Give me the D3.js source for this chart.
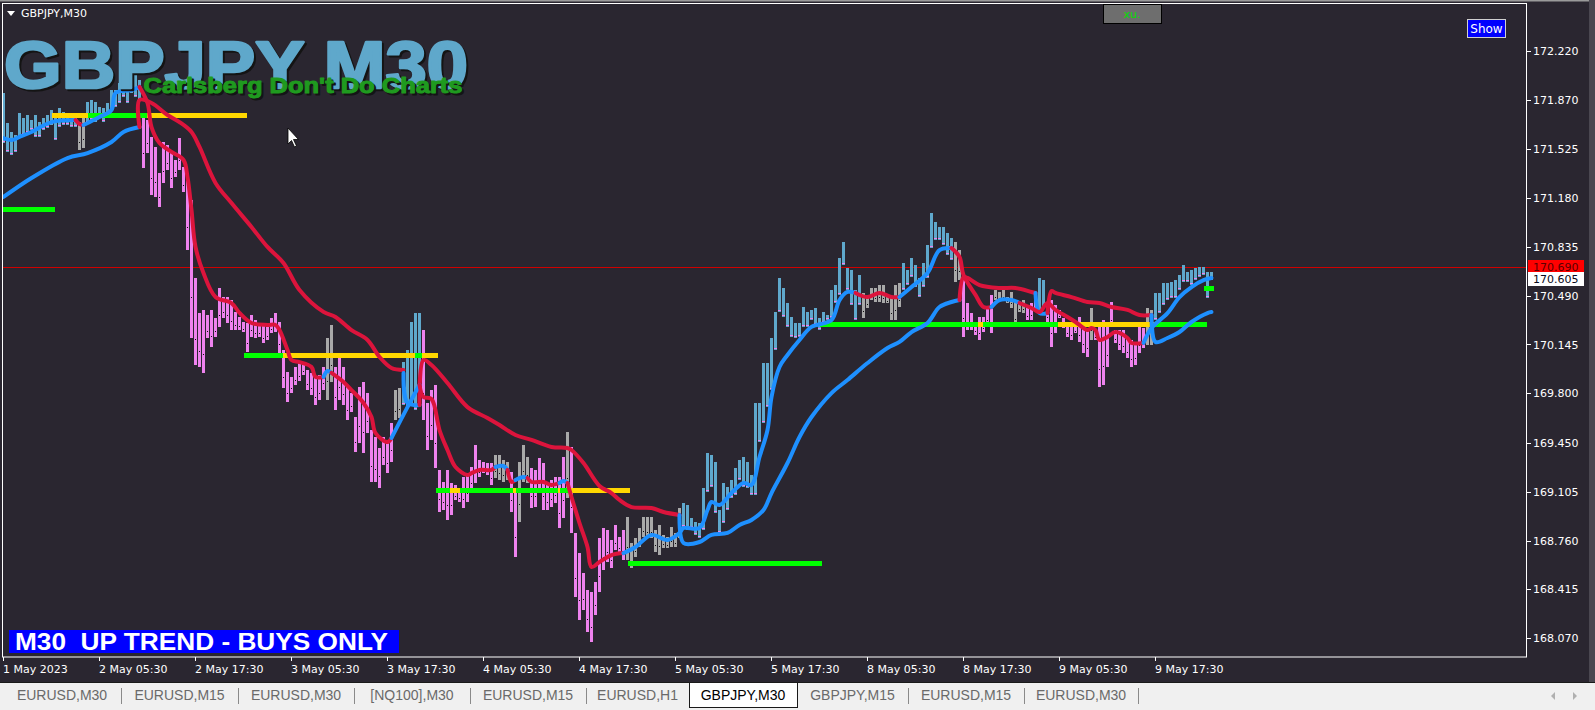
<!DOCTYPE html>
<html>
<head>
<meta charset="utf-8">
<script src="https://cdn.jsdelivr.net/npm/d3@7"></script>
<style>
body { margin: 0; background: #2a2630; overflow: hidden; }
svg { display: block; }
text { font-family: "DejaVu Sans", sans-serif; }
</style>
</head>
<body>
<svg id="chart" width="1595" height="710"></svg>
<script>
// ---- data ----
var timeLabels = ["1 May 2023", "2 May 05:30", "2 May 17:30", "3 May 05:30", "3 May 17:30", "4 May 05:30",
    "4 May 17:30", "5 May 05:30", "5 May 17:30", "8 May 05:30", "8 May 17:30", "9 May 05:30", "9 May 17:30"];
var timeLabelBars = [0, 24, 48, 72, 96, 120, 144, 168, 192, 216, 240, 264, 288];

var priceTicks = [172.220, 171.870, 171.525, 171.180, 170.835, 170.490, 170.145,
    169.800, 169.450, 169.105, 168.760, 168.415, 168.070];

var askPrice = 170.690;
var bidPrice = 170.605;

// bar highs / lows, one per M30 bar
var barHigh = [
    171.921, 171.709, 171.646, 171.625, 171.780, 171.744, 171.766, 171.730, 171.766, 171.716,
    171.744, 171.766, 171.801, 171.766, 171.815, 171.787, 171.752, 171.730, 171.752, 171.716,
    171.744, 171.858, 171.872, 171.858, 171.823, 171.815, 171.851, 171.942, 171.942, 171.992,
    171.964, 172.013, 172.063, 172.063, 172.013, 171.744, 171.730, 171.611, 171.540, 171.356,
    171.575, 171.554, 171.498, 171.448, 171.603, 171.399, 171.356, 171.165, 170.614, 170.368,
    170.389, 170.354, 170.389, 170.332, 170.543, 170.481, 170.481, 170.459, 170.375, 170.340,
    170.304, 170.297, 170.354, 170.318, 170.297, 170.283, 170.269, 170.332, 170.368, 170.304,
    170.106, 169.951, 169.916, 169.986, 170.014, 170.014, 169.965, 169.944, 169.916, 169.930,
    169.986, 170.190, 170.283, 169.986, 170.049, 169.986, 169.845, 169.802, 169.633, 169.845,
    169.880, 169.802, 169.541, 169.492, 169.413, 169.492, 169.470, 169.591, 169.823, 169.837,
    170.021, 170.106, 170.304, 170.368, 170.368, 170.247, 169.732, 169.823, 169.859, 169.259,
    169.174, 169.259, 169.167, 169.153, 169.117, 169.210, 169.238, 169.280, 169.435, 169.329,
    169.315, 169.308, 169.308, 169.365, 169.365, 169.329, 169.315, 169.245, 169.117, 169.315,
    169.435, 169.351, 169.272, 169.259, 169.343, 169.308, 169.167, 169.188, 169.210, 169.210,
    169.351, 169.527, 169.421, 168.814, 168.672, 168.531, 168.411, 168.397, 168.468, 168.778,
    168.848, 168.835, 168.764, 168.870, 168.786, 168.835, 168.927, 168.743, 168.778, 168.848,
    168.927, 168.927, 168.927, 168.835, 168.870, 168.800, 168.786, 168.856, 168.814, 168.990,
    169.026, 169.012, 168.919, 168.891, 168.884, 169.131, 169.379, 169.365, 169.315, 168.976,
    169.167, 169.139, 169.188, 169.272, 169.329, 169.351, 169.315, 169.224, 169.732, 169.732,
    170.014, 170.014, 170.190, 170.375, 170.614, 170.543, 170.438, 170.340, 170.297, 170.297,
    170.410, 170.375, 170.389, 170.402, 170.332, 170.375, 170.354, 170.530, 170.565, 170.755,
    170.869, 170.685, 170.671, 170.530, 170.636, 170.509, 170.495, 170.543, 170.543, 170.565,
    170.565, 170.495, 170.473, 170.565, 170.579, 170.721, 170.671, 170.755, 170.707, 170.614,
    170.721, 170.848, 171.074, 171.010, 170.975, 170.975, 170.933, 170.897, 170.869, 170.812,
    170.636, 170.438, 170.368, 170.297, 170.340, 170.340, 170.402, 170.495, 170.530, 170.516,
    170.530, 170.481, 170.516, 170.459, 170.438, 170.459, 170.410, 170.438, 170.481, 170.614,
    170.600, 170.438, 170.459, 170.424, 170.389, 170.332, 170.304, 170.297, 170.283, 170.340,
    170.304, 170.261, 170.402, 170.247, 170.269, 170.318, 170.269, 170.445, 170.247, 170.247,
    170.247, 170.198, 170.177, 170.156, 170.269, 170.261, 170.402, 170.389, 170.509, 170.509,
    170.579, 170.579, 170.586, 170.600, 170.636, 170.707, 170.657, 170.671, 170.685, 170.693,
    170.693, 170.657, 170.657
];
var barLow = [
    171.568, 171.505, 171.484, 171.505, 171.611, 171.625, 171.639, 171.660, 171.611, 171.611,
    171.660, 171.673, 171.695, 171.589, 171.681, 171.695, 171.695, 171.681, 171.681, 171.519,
    171.532, 171.709, 171.730, 171.716, 171.752, 171.716, 171.752, 171.801, 171.823, 171.851,
    171.893, 171.851, 171.921, 171.893, 171.872, 171.391, 171.498, 171.201, 171.187, 171.116,
    171.286, 171.377, 171.250, 171.328, 171.377, 171.222, 170.812, 170.190, 170.000, 169.986,
    169.944, 170.190, 170.128, 170.198, 170.269, 170.332, 170.297, 170.247, 170.247, 170.247,
    170.233, 170.092, 170.198, 170.190, 170.198, 170.156, 170.177, 170.226, 170.233, 170.085,
    169.837, 169.739, 169.802, 169.859, 169.887, 169.930, 169.823, 169.788, 169.718, 169.753,
    169.823, 169.753, 169.880, 169.682, 169.753, 169.718, 169.612, 169.668, 169.386, 169.449,
    169.379, 169.520, 169.174, 169.174, 169.131, 169.294, 169.238, 169.315, 169.612, 169.625,
    169.718, 169.704, 169.718, 169.682, 169.823, 169.612, 169.400, 169.470, 169.272, 168.962,
    168.976, 168.905, 168.941, 169.047, 169.033, 168.990, 169.033, 169.117, 169.167, 169.210,
    169.238, 169.224, 169.153, 169.202, 169.188, 169.174, 169.188, 168.962, 168.644, 168.891,
    169.174, 169.167, 168.990, 168.998, 169.096, 168.976, 168.976, 168.998, 169.026, 168.848,
    168.919, 169.060, 168.814, 168.362, 168.199, 168.270, 168.114, 168.044, 168.235, 168.397,
    168.552, 168.609, 168.566, 168.693, 168.672, 168.623, 168.623, 168.566, 168.644, 168.715,
    168.786, 168.778, 168.778, 168.679, 168.658, 168.707, 168.707, 168.715, 168.715, 168.778,
    168.856, 168.835, 168.848, 168.800, 168.778, 168.835, 169.103, 169.139, 168.955, 168.814,
    168.884, 168.976, 169.060, 169.082, 169.188, 169.139, 169.131, 169.082, 169.082, 169.456,
    169.591, 169.704, 169.823, 170.106, 170.375, 170.340, 170.269, 170.198, 170.190, 170.198,
    170.269, 170.269, 170.318, 170.283, 170.247, 170.297, 170.318, 170.332, 170.438, 170.495,
    170.707, 170.530, 170.424, 170.318, 170.424, 170.332, 170.402, 170.459, 170.445, 170.445,
    170.438, 170.438, 170.318, 170.318, 170.410, 170.530, 170.565, 170.622, 170.551, 170.481,
    170.551, 170.614, 170.826, 170.883, 170.883, 170.848, 170.777, 170.742, 170.586, 170.600,
    170.198, 170.247, 170.247, 170.212, 170.177, 170.233, 170.283, 170.226, 170.459, 170.459,
    170.459, 170.438, 170.402, 170.269, 170.375, 170.368, 170.318, 170.318, 170.389, 170.368,
    170.402, 170.297, 170.128, 170.226, 170.332, 170.261, 170.198, 170.177, 170.226, 170.163,
    170.085, 170.057, 170.177, 170.177, 169.845, 169.859, 169.986, 170.269, 170.156, 170.106,
    170.085, 170.049, 169.986, 170.000, 170.085, 170.120, 170.142, 170.142, 170.318, 170.368,
    170.424, 170.459, 170.473, 170.473, 170.530, 170.586, 170.586, 170.565, 170.600, 170.622,
    170.636, 170.473, 170.600
];
// b = up bar, p = down bar, g = neutral bar
var barType =
    "bbbbbbbbbb" + "bbbbbbbbbg" + "gbbbbbbbbb" + "bbbbbppppp" + "pppppppppp" +
    "pppppppppp" + "pppppppppp" + "pppppppppp" + "pggppppppp" + "ppppppppgg" +
    "bbbbbppppp" + "pppppppppp" + "pppggggppg" + "ggpppppppp" + "pgpppppppp" +
    "ppppppgggg" + "gggggggggg" + "bbbbbbbbbb" + "bbbbbbbbbb" + "bbbbbbbbbb" +
    "bbbbbbbbbb" + "bbbbbggggg" + "gggggbbbbb" + "bbbbbbbbgg" + "ppppppppgg" +
    "ggggggpppb" + "bppppppppp" + "ppgppppppp" + "ppppppggbb" + "bbbbbbbbbb" +
    "bbb";

// fast and slow trend lines: [bar, price]
var fastLine = [
    { dir: "up", pts: [[0, 171.603], [2, 171.589], [4, 171.611], [7, 171.646], [12, 171.716], [18, 171.730]] },
    { dir: "dn", pts: [[18, 171.730], [19, 171.702], [20, 171.695]] },
    { dir: "up", pts: [[20, 171.695], [24, 171.752], [27, 171.801], [28, 171.921], [32, 171.942], [34, 171.964]] },
    { dir: "dn", pts: [[34, 171.964], [36, 171.851], [37, 171.681], [39, 171.568], [42, 171.505], [45, 171.448],
        [46, 171.328], [47, 171.095], [48, 170.834], [50, 170.650], [53, 170.481], [57, 170.438], [59, 170.368],
        [62, 170.297], [66, 170.283], [68, 170.283], [69, 170.247], [71, 170.106], [72, 170.035], [74, 170.021],
        [77, 169.986], [78, 169.916], [80, 169.916]] },
    { dir: "up", pts: [[80, 169.916], [81, 169.958], [82, 169.944]] },
    { dir: "dn", pts: [[82, 169.944], [85, 169.880], [87, 169.823], [90, 169.732], [92, 169.633], [93, 169.520],
        [96, 169.456], [97, 169.485]] },
    { dir: "up", pts: [[97, 169.485], [101, 169.703], [104, 169.859]] },
    { dir: "dn", pts: [[104, 169.859], [105, 169.774], [107, 169.760], [109, 169.541], [111, 169.400], [113, 169.280],
        [116, 169.223], [117, 169.237], [119, 169.259], [122, 169.259], [123, 169.280]] },
    { dir: "up", pts: [[123, 169.280], [125, 169.287], [126, 169.259]] },
    { dir: "dn", pts: [[126, 169.259], [127, 169.174], [128, 169.188]] },
    { dir: "up", pts: [[128, 169.188], [130, 169.209], [131, 169.202]] },
    { dir: "dn", pts: [[131, 169.202], [132, 169.174], [135, 169.174], [137, 169.153], [139, 169.167]] },
    { dir: "up", pts: [[139, 169.167], [140, 169.181], [141, 169.167]] },
    { dir: "dn", pts: [[141, 169.167], [142, 169.068], [144, 168.884], [146, 168.715], [147, 168.574], [149, 168.609],
        [152, 168.658], [155, 168.672]] },
    { dir: "up", pts: [[155, 168.672], [158, 168.715], [162, 168.800], [166, 168.764], [169, 168.814], [170, 168.849],
        [174, 168.849], [176, 168.976], [177, 169.033], [179, 169.011], [182, 169.096], [185, 169.167], [187, 169.153],
        [189, 169.350], [191, 169.541], [192, 169.774], [194, 169.986], [196, 170.071], [199, 170.177], [202, 170.269],
        [207, 170.318], [209, 170.459], [211, 170.516], [213, 170.509]] },
    { dir: "dn", pts: [[213, 170.509], [216, 170.480], [219, 170.509], [222, 170.480], [224, 170.480]] },
    { dir: "up", pts: [[224, 170.480], [227, 170.551], [231, 170.650], [234, 170.812], [237, 170.826]] },
    { dir: "dn", pts: [[237, 170.826], [239, 170.763], [240, 170.636], [243, 170.495], [245, 170.410], [247, 170.410]] },
    { dir: "up", pts: [[247, 170.410], [249, 170.459], [252, 170.459], [254, 170.438]] },
    { dir: "dn", pts: [[254, 170.438], [257, 170.403], [259, 170.374], [261, 170.438], [263, 170.389], [266, 170.339],
        [268, 170.304], [271, 170.247], [272, 170.262], [273, 170.247], [274, 170.177], [276, 170.198], [278, 170.233],
        [281, 170.191], [282, 170.156], [285, 170.156]] },
    { dir: "up", pts: [[285, 170.156], [287, 170.262], [291, 170.367], [294, 170.480], [297, 170.551], [300, 170.600],
        [302, 170.615]] }
];
var slowLine = [
    { dir: "up", pts: [[0, 171.187], [7, 171.321], [16, 171.462], [21, 171.497], [27, 171.575], [30, 171.646], [34, 171.681]] },
    { dir: "dn", pts: [[34, 171.681], [34, 171.872], [37, 171.851], [41, 171.766], [44, 171.716], [47, 171.646],
        [49, 171.540], [53, 171.286], [57, 171.144], [62, 170.975], [66, 170.834], [70, 170.721], [74, 170.530],
        [80, 170.375], [83, 170.339], [87, 170.247], [91, 170.177], [94, 170.057], [97, 169.979], [100, 169.965]] },
    { dir: "up", pts: [[100, 169.944], [101, 169.732], [104, 169.718]] },
    { dir: "dn", pts: [[104, 169.718], [105, 170.035], [107, 170.000], [111, 169.873], [116, 169.703], [121, 169.626],
        [124, 169.576], [128, 169.506], [132, 169.471], [137, 169.421], [141, 169.414], [142, 169.400], [145, 169.308],
        [149, 169.146], [152, 169.096], [154, 169.047], [157, 168.997], [162, 168.990], [165, 168.962], [169, 168.941]] },
    { dir: "up", pts: [[169, 168.941], [170, 168.743], [174, 168.750], [177, 168.800], [181, 168.814], [184, 168.870],
        [187, 168.906], [190, 168.976], [192, 169.096], [196, 169.308], [199, 169.492], [202, 169.633], [207, 169.802],
        [211, 169.894], [216, 170.014], [221, 170.120], [224, 170.163], [227, 170.233], [231, 170.297], [234, 170.410],
        [237, 170.445], [239, 170.459]] },
    { dir: "dn", pts: [[239, 170.459], [240, 170.622], [241, 170.615], [244, 170.565], [249, 170.544], [253, 170.544],
        [257, 170.516], [258, 170.509]] },
    { dir: "up", pts: [[258, 170.509], [259, 170.367], [261, 170.367]] },
    { dir: "dn", pts: [[261, 170.367], [262, 170.523], [263, 170.509], [267, 170.480], [271, 170.445], [274, 170.438],
        [277, 170.410], [281, 170.389], [284, 170.353], [287, 170.353]] },
    { dir: "up", pts: [[287, 170.353], [288, 170.163], [291, 170.191], [294, 170.233], [297, 170.304], [301, 170.367],
        [302, 170.374]] }
];

// support / resistance levels and their coloured pieces: [level, fromBar, toBar, state]
var levelPrices = [171.769, 171.102, 170.071, 169.114, 168.602, 170.290, 170.544];
var levelSegments = [
    [0, 12.1, 21.1, "y"], [0, 21.1, 35.9, "g"], [0, 35.9, 60.9, "y"],
    [1, -0.1, 12.9, "g"],
    [2, 60.1, 69.9, "g"], [2, 69.9, 102.9, "y"], [2, 102.9, 104.6, "g"], [2, 104.6, 108.6, "y"],
    [3, 108.1, 111.6, "g"], [3, 111.6, 114.1, "y"], [3, 114.1, 127.4, "g"], [3, 127.4, 128.1, "y"],
    [3, 128.1, 138.6, "g"], [3, 138.6, 139.1, "y"], [3, 139.1, 141.6, "g"], [3, 141.6, 156.6, "y"],
    [4, 156.1, 204.6, "g"],
    [5, 204.1, 243.6, "g"], [5, 243.6, 244.9, "y"], [5, 244.9, 263.6, "g"], [5, 263.6, 287.9, "y"], [5, 287.9, 300.9, "g"],
    [6, 300.1, 302.6, "g"]
];

var tabLabels = ["EURUSD,M30", "EURUSD,M15", "EURUSD,M30", "[NQ100],M30", "EURUSD,M15", "EURUSD,H1",
    "GBPJPY,M30", "GBPJPY,M15", "EURUSD,M15", "EURUSD,M30"];
var tabEdges = [3, 121, 238, 354, 470, 586, 689, 797, 908, 1024, 1138];
var activeTab = 6;

// ---- colours ----
var bg = "#2a2630";
var barColor = { b: "#5fa8cc", p: "#ee82ee", g: "#a9a9a9" };
var lineColor = { up: "#1e90ff", dn: "#dc143c" };
var levelColor = { g: "#00ff00", y: "#ffd700" };

var svg = d3.select("#chart");

svg.append("rect").attr("width", 1595).attr("height", 710).attr("fill", bg);

// window top edge and right strip
svg.append("rect").attr("x", 0).attr("y", 0).attr("width", 1595).attr("height", 1.5).attr("fill", "#9a9a9a");
svg.append("rect").attr("x", 1589).attr("y", 0).attr("width", 6).attr("height", 682).attr("fill", "#4a4750");

// scales
var x = d3.scaleLinear().domain([0, 302]).range([3.5, 1211.5]);
var y = d3.scaleLinear().domain([168.070, 172.220]).range([638.3, 50.7]);

svg.append("clipPath").attr("id", "plotClip")
    .append("rect").attr("x", 3).attr("y", 4).attr("width", 1523).attr("height", 653);

var plot = svg.append("g").attr("clip-path", "url(#plotClip)");

// ask line
plot.append("line")
    .attr("x1", 3).attr("x2", 1526)
    .attr("y1", Math.round(y(askPrice)) + 0.5).attr("y2", Math.round(y(askPrice)) + 0.5)
    .attr("stroke", "#d00000").attr("stroke-width", 1);

// bars
var bars = d3.range(barHigh.length);
plot.append("g").attr("shape-rendering", "crispEdges")
    .selectAll("rect")
    .data(bars)
    .enter().append("rect")
    .attr("x", function (i) { return x(i) - 1.5; })
    .attr("y", function (i) { return Math.round(y(barHigh[i])); })
    .attr("width", 3)
    .attr("height", function (i) { return Math.max(2, Math.round(y(barLow[i])) - Math.round(y(barHigh[i]))); })
    .attr("fill", function (i) { return barColor[barType[i]]; });

// small marks on the bars
plot.append("g").attr("shape-rendering", "crispEdges")
    .selectAll("rect")
    .data(bars)
    .enter().append("rect")
    .attr("x", function (i) { return barType[i] === "b" ? x(i) - 1.5 : x(i) - 0.5; })
    .attr("y", function (i) {
        var top = Math.round(y(barHigh[i])), bot = Math.round(y(barLow[i]));
        return barType[i] === "b" ? bot - 2 : Math.round(top + (bot - top) * 0.7);
    })
    .attr("width", function (i) { return barType[i] === "b" ? 3 : 1; })
    .attr("height", 1)
    .attr("fill", function (i) { return barType[i] === "b" ? "#ee82ee" : "#111111"; });

// levels
plot.append("g").attr("shape-rendering", "crispEdges")
    .selectAll("rect")
    .data(levelSegments)
    .enter().append("rect")
    .attr("x", function (d) { return x(d[1]); })
    .attr("y", function (d) { return Math.round(y(levelPrices[d[0]])) - 2.5; })
    .attr("width", function (d) { return x(d[2]) - x(d[1]); })
    .attr("height", 5)
    .attr("fill", function (d) { return levelColor[d[3]]; });

// trend lines
var line = d3.line()
    .x(function (d) { return x(d[0]); })
    .y(function (d) { return y(d[1]); })
    .curve(d3.curveCatmullRom.alpha(0.5));

function drawTrend(segments) {
    plot.append("g").selectAll("path")
        .data(segments)
        .enter().append("path")
        .attr("d", function (d) { return line(d.pts); })
        .attr("fill", "none")
        .attr("stroke", function (d) { return lineColor[d.dir]; })
        .attr("stroke-width", 4)
        .attr("stroke-linejoin", "round")
        .attr("stroke-linecap", "round");
}
drawTrend(slowLine);
drawTrend(fastLine);

// frame
svg.append("rect")
    .attr("x", 2.5).attr("y", 3.5).attr("width", 1524).attr("height", 653.5)
    .attr("fill", "none").attr("stroke", "#ffffff").attr("stroke-width", 1);

// price axis
var pAxis = svg.append("g");
pAxis.selectAll("line")
    .data(priceTicks)
    .enter().append("line")
    .attr("x1", 1527).attr("x2", 1531)
    .attr("y1", function (d) { return Math.round(y(d)) + 0.5; })
    .attr("y2", function (d) { return Math.round(y(d)) + 0.5; })
    .attr("stroke", "#ffffff");
pAxis.selectAll("text")
    .data(priceTicks)
    .enter().append("text")
    .attr("x", 1533)
    .attr("y", function (d) { return y(d) + 4; })
    .attr("fill", "#ffffff")
    .style("font-size", "11px")
    .text(function (d) { return d3.format(".3f")(d); });

// ask / bid labels
svg.append("rect").attr("x", 1528).attr("y", Math.round(y(askPrice)) - 7).attr("width", 56).attr("height", 12)
    .attr("fill", "#ff0000");
svg.append("text").attr("x", 1533).attr("y", y(askPrice) + 4).attr("fill", "#5a0000")
    .style("font-size", "11px").text(d3.format(".3f")(askPrice));
svg.append("rect").attr("x", 1528).attr("y", Math.round(y(askPrice)) + 5).attr("width", 56).attr("height", 14)
    .attr("fill", "#ffffff");
svg.append("text").attr("x", 1533).attr("y", y(bidPrice) + 4).attr("fill", "#0a0a20")
    .style("font-size", "11px").text(d3.format(".3f")(bidPrice));

// time axis
var tAxis = svg.append("g");
tAxis.selectAll("line")
    .data(timeLabelBars)
    .enter().append("line")
    .attr("x1", function (d) { return x(d); }).attr("x2", function (d) { return x(d); })
    .attr("y1", 657).attr("y2", 661)
    .attr("stroke", "#ffffff");
tAxis.selectAll("text")
    .data(timeLabelBars)
    .enter().append("text")
    .attr("x", function (d) { return x(d) - 0.5; })
    .attr("y", 673)
    .attr("fill", "#ffffff")
    .style("font-size", "11px")
    .text(function (d, i) { return timeLabels[i]; });

// chart title top-left
svg.append("path").attr("d", "M7,11 L15,11 L11,16 Z").attr("fill", "#ffffff");
svg.append("text").attr("x", 21).attr("y", 17).attr("fill", "#ffffff")
    .style("font-size", "11px").text("GBPJPY,M30");

// big labels with shadow, stroked to get the heavy face
function shadowText(txt, tx, ty, size, len, color, weight) {
    [["#141414", 2, 2], [color, 0, 0]].forEach(function (s) {
        svg.append("text")
            .attr("x", tx + s[1]).attr("y", ty + s[2])
            .attr("textLength", len).attr("lengthAdjust", "spacingAndGlyphs")
            .attr("fill", s[0])
            .attr("stroke", s[0]).attr("stroke-width", weight).attr("stroke-linejoin", "round")
            .style("font-family", "'Liberation Sans', Arial, sans-serif")
            .style("font-weight", "bold")
            .style("font-size", size + "px")
            .text(txt);
    });
}
shadowText("GBPJPY M30", 4, 88, 67, 464, "#5fa8cb", 2.6);
shadowText("Carlsberg Don't Do Charts", 143.5, 93, 22, 319, "#1f9a1f", 1);

// trend banner
svg.append("rect").attr("x", 9).attr("y", 630).attr("width", 390).attr("height", 23).attr("fill", "#0000ff");
svg.append("text").attr("x", 15).attr("y", 649.5)
    .attr("textLength", 373).attr("lengthAdjust", "spacingAndGlyphs")
    .attr("fill", "#ffffff")
    .style("font-family", "'Liberation Sans', Arial, sans-serif")
    .style("font-weight", "bold").style("font-size", "23px")
    .text("M30\u00a0\u00a0UP TREND - BUYS ONLY");

// xu. box and Show button
svg.append("rect").attr("x", 1103.5).attr("y", 4.5).attr("width", 58).attr("height", 19)
    .attr("fill", "#6e6e6e").attr("stroke", "#000000");
svg.append("text").attr("x", 1132).attr("y", 18).attr("text-anchor", "middle")
    .attr("fill", "#00e000").style("font-size", "11px").text("xu.");
svg.append("rect").attr("x", 1467.5).attr("y", 19.5).attr("width", 38).attr("height", 18)
    .attr("fill", "#0000ff").attr("stroke", "#d0d0d0");
svg.append("text").attr("x", 1486.5).attr("y", 33).attr("text-anchor", "middle")
    .attr("fill", "#ffffff").style("font-size", "12px").text("Show");

// mouse pointer
svg.append("path")
    .attr("d", "M288,128 L288,144 L291.5,140.5 L294.5,147 L296.5,146 L293.5,139.5 L298.5,139.5 Z")
    .attr("fill", "#ffffff").attr("stroke", "#000000").attr("stroke-width", 0.8);

// tab strip
svg.append("rect").attr("x", 0).attr("y", 682).attr("width", 1595).attr("height", 28).attr("fill", "#f0f0f0");
svg.append("line").attr("x1", 0).attr("x2", 1595).attr("y1", 682.5).attr("y2", 682.5).attr("stroke", "#1a1a1a");
svg.append("rect")
    .attr("x", tabEdges[activeTab] + 0.5).attr("y", 682.5)
    .attr("width", tabEdges[activeTab + 1] - tabEdges[activeTab]).attr("height", 25)
    .attr("fill", "#ffffff").attr("stroke", "#1a1a1a");
svg.append("g").selectAll("line")
    .data(tabEdges.slice(1).filter(function (d, i) { return i !== activeTab - 1 && i !== activeTab; }))
    .enter().append("line")
    .attr("x1", function (d) { return d + 0.5; }).attr("x2", function (d) { return d + 0.5; })
    .attr("y1", 688).attr("y2", 704)
    .attr("stroke", "#8a8a8a");
svg.append("g").selectAll("text")
    .data(tabLabels)
    .enter().append("text")
    .attr("x", function (d, i) { return (tabEdges[i] + tabEdges[i + 1]) / 2; })
    .attr("y", 700)
    .attr("text-anchor", "middle")
    .attr("fill", function (d, i) { return i === activeTab ? "#000000" : "#6a6a6a"; })
    .style("font-family", "'Liberation Sans', Arial, sans-serif")
    .style("font-size", "14px")
    .text(function (d) { return d; });

// scroll arrows
svg.append("path").attr("d", "M1551,696 L1555,692 L1555,700 Z").attr("fill", "#b0b0b0");
svg.append("path").attr("d", "M1577,696 L1573,692 L1573,700 Z").attr("fill", "#b0b0b0");
</script>
</body>
</html>
